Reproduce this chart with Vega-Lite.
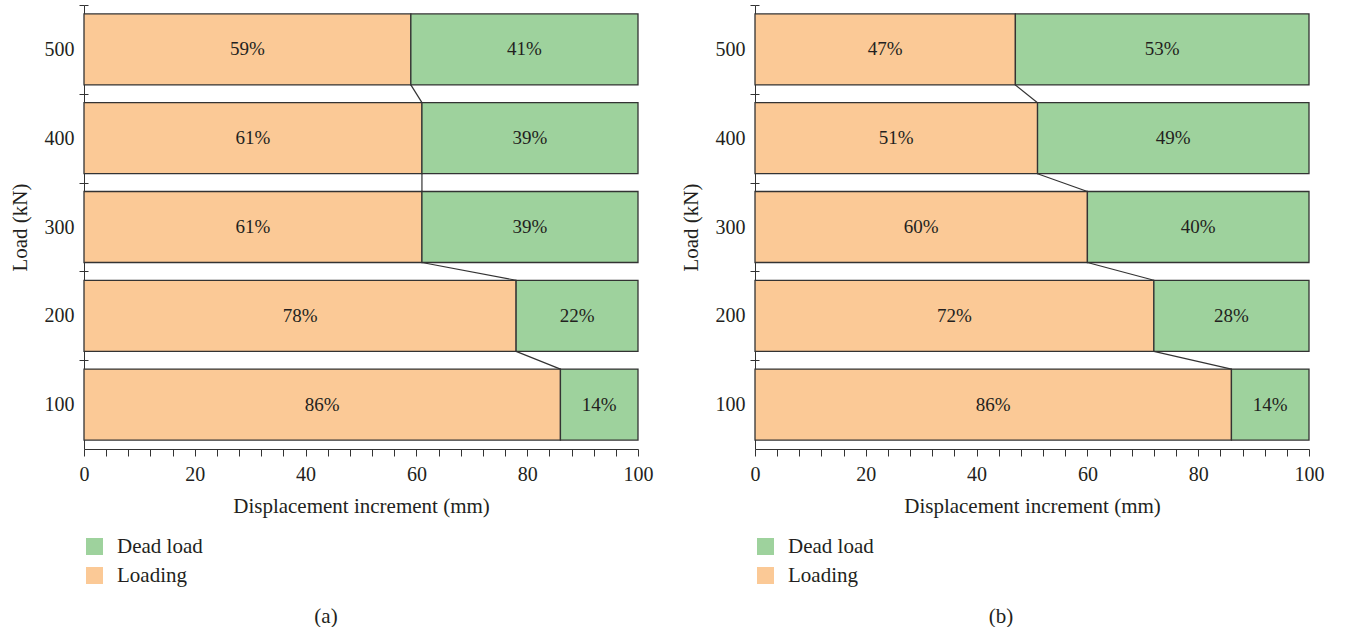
{
  "$schema": "https://vega.github.io/schema/vega-lite/v6.json",
  "padding": {"left": 9, "top": 4, "right": 10, "bottom": 0},
  "background": "white",
  "config": {
    "font": "Liberation Serif",
    "view": {"stroke": null},
    "axis": {"labelFont": "Liberation Serif", "titleFont": "Liberation Serif", "labelColor": "#231F20", "titleColor": "#231F20", "domainColor": "#333333", "tickColor": "#333333", "titleFontWeight": "normal", "labelFontSize": 20, "titleFontSize": 21, "grid": false},
    "legend": {"labelFont": "Liberation Serif", "labelFontSize": 21, "labelColor": "#231F20"},
    "title": {"font": "Liberation Serif", "fontSize": 21, "fontWeight": "normal", "color": "#231F20"}
  },
  "spacing": 27,
  "datasets": {
    "a_bars": [
      {"load": 500, "type": "Loading", "value": 59, "label": "59%"},
      {"load": 500, "type": "Dead load", "value": 41, "label": "41%"},
      {"load": 400, "type": "Loading", "value": 61, "label": "61%"},
      {"load": 400, "type": "Dead load", "value": 39, "label": "39%"},
      {"load": 300, "type": "Loading", "value": 61, "label": "61%"},
      {"load": 300, "type": "Dead load", "value": 39, "label": "39%"},
      {"load": 200, "type": "Loading", "value": 78, "label": "78%"},
      {"load": 200, "type": "Dead load", "value": 22, "label": "22%"},
      {"load": 100, "type": "Loading", "value": 86, "label": "86%"},
      {"load": 100, "type": "Dead load", "value": 14, "label": "14%"}
    ],
    "b_bars": [
      {"load": 500, "type": "Loading", "value": 47, "label": "47%"},
      {"load": 500, "type": "Dead load", "value": 53, "label": "53%"},
      {"load": 400, "type": "Loading", "value": 51, "label": "51%"},
      {"load": 400, "type": "Dead load", "value": 49, "label": "49%"},
      {"load": 300, "type": "Loading", "value": 60, "label": "60%"},
      {"load": 300, "type": "Dead load", "value": 40, "label": "40%"},
      {"load": 200, "type": "Loading", "value": 72, "label": "72%"},
      {"load": 200, "type": "Dead load", "value": 28, "label": "28%"},
      {"load": 100, "type": "Loading", "value": 86, "label": "86%"},
      {"load": 100, "type": "Dead load", "value": 14, "label": "14%"}
    ],
    "a_links": [
      {"from_load": 500, "from_x": 59, "to_load": 400, "to_x": 61},
      {"from_load": 400, "from_x": 61, "to_load": 300, "to_x": 61},
      {"from_load": 300, "from_x": 61, "to_load": 200, "to_x": 78},
      {"from_load": 200, "from_x": 78, "to_load": 100, "to_x": 86}
    ],
    "b_links": [
      {"from_load": 500, "from_x": 47, "to_load": 400, "to_x": 51},
      {"from_load": 400, "from_x": 51, "to_load": 300, "to_x": 60},
      {"from_load": 300, "from_x": 60, "to_load": 200, "to_x": 72},
      {"from_load": 200, "from_x": 72, "to_load": 100, "to_x": 86}
    ]
  },
  "hconcat": [
    {
      "width": 554, "height": 444,
      "title": {"text": "(a)", "orient": "bottom", "anchor": "middle", "frame": "bounds", "offset": 20, "dx": -5},
      "resolve": {"axis": {"y": "independent", "x": "independent"}},
      "layer": [
        {
          "data": {"name": "a_bars"},
          "mark": {"type": "bar", "stroke": "#333333", "strokeWidth": 1.3},
          "encoding": {
            "y": {"field": "load", "type": "ordinal", "sort": [500, 400, 300, 200, 100], "scale": {"domain": [500, 400, 300, 200, 100], "paddingInner": 0.2, "paddingOuter": 0.1},
              "axis": {"title": "Load (kN)", "tickOffset": -44.4, "labelOffset": 44.4, "tickSize": 5, "labelPadding": 5, "titlePadding": 14, "labelAngle": 0}},
            "x": {"field": "value", "type": "quantitative", "stack": "zero", "scale": {"domain": [0, 100], "nice": false},
              "axis": {"orient": "bottom", "title": "Displacement increment (mm)", "values": [0, 20, 40, 60, 80, 100], "labelOverlap": false, "tickSize": 7, "labelPadding": 8, "titlePadding": 11, "labelFlush": false}},
            "color": {"field": "type", "type": "nominal", "scale": {"domain": ["Dead load", "Loading"], "range": ["#9ED29D", "#FBC996"]},
              "legend": {"title": null, "orient": "none", "legendX": 0, "legendY": 531, "symbolType": "square", "symbolSize": 289, "symbolStrokeWidth": 0, "symbolOpacity": 1, "labelOffset": 12, "rowPadding": 7, "padding": 0}},
            "order": {"field": "type", "sort": "descending"}
          }
        },
        {
          "data": {"name": "a_bars"},
          "mark": {"type": "text", "fontSize": 19, "color": "#231F20", "baseline": "middle", "align": "center"},
          "encoding": {
            "y": {"field": "load", "type": "ordinal", "sort": [500, 400, 300, 200, 100], "axis": null},
            "x": {"field": "value", "type": "quantitative", "stack": "zero", "bandPosition": 0.5,
              "axis": {"orient": "bottom", "title": null, "labels": false, "domain": false, "values": [4,8,12,16,24,28,32,36,44,48,52,56,64,68,72,76,84,88,92,96], "tickSize": 7}},
            "order": {"field": "type", "sort": "descending"},
            "text": {"field": "label"}
          }
        },
        {
          "data": {"name": "a_links"},
          "mark": {"type": "rule", "color": "#333333", "strokeWidth": 1.2},
          "encoding": {
            "y": {"field": "from_load", "type": "ordinal", "sort": [500, 400, 300, 200, 100], "bandPosition": 1,
              "axis": {"orient": "left", "title": null, "labels": false, "domain": false, "tickOffset": -44.4, "tickSize": -4}},
            "y2": {"field": "to_load", "bandPosition": 0},
            "x": {"field": "from_x", "type": "quantitative", "axis": null},
            "x2": {"field": "to_x"}
          }
        }
      ]
    },
    {
      "width": 554, "height": 444,
      "title": {"text": "(b)", "orient": "bottom", "anchor": "middle", "frame": "bounds", "offset": 20, "dx": -1},
      "resolve": {"axis": {"y": "independent", "x": "independent"}},
      "layer": [
        {
          "data": {"name": "b_bars"},
          "mark": {"type": "bar", "stroke": "#333333", "strokeWidth": 1.3},
          "encoding": {
            "y": {"field": "load", "type": "ordinal", "sort": [500, 400, 300, 200, 100], "scale": {"domain": [500, 400, 300, 200, 100], "paddingInner": 0.2, "paddingOuter": 0.1},
              "axis": {"title": "Load (kN)", "tickOffset": -44.4, "labelOffset": 44.4, "tickSize": 5, "labelPadding": 5, "titlePadding": 14, "labelAngle": 0}},
            "x": {"field": "value", "type": "quantitative", "stack": "zero", "scale": {"domain": [0, 100], "nice": false},
              "axis": {"orient": "bottom", "title": "Displacement increment (mm)", "values": [0, 20, 40, 60, 80, 100], "labelOverlap": false, "tickSize": 7, "labelPadding": 8, "titlePadding": 11, "labelFlush": false}},
            "color": {"field": "type", "type": "nominal", "scale": {"domain": ["Dead load", "Loading"], "range": ["#9ED29D", "#FBC996"]},
              "legend": {"title": null, "orient": "none", "legendX": 0, "legendY": 531, "symbolType": "square", "symbolSize": 289, "symbolStrokeWidth": 0, "symbolOpacity": 1, "labelOffset": 12, "rowPadding": 7, "padding": 0}},
            "order": {"field": "type", "sort": "descending"}
          }
        },
        {
          "data": {"name": "b_bars"},
          "mark": {"type": "text", "fontSize": 19, "color": "#231F20", "baseline": "middle", "align": "center"},
          "encoding": {
            "y": {"field": "load", "type": "ordinal", "sort": [500, 400, 300, 200, 100], "axis": null},
            "x": {"field": "value", "type": "quantitative", "stack": "zero", "bandPosition": 0.5,
              "axis": {"orient": "bottom", "title": null, "labels": false, "domain": false, "values": [4,8,12,16,24,28,32,36,44,48,52,56,64,68,72,76,84,88,92,96], "tickSize": 7}},
            "order": {"field": "type", "sort": "descending"},
            "text": {"field": "label"}
          }
        },
        {
          "data": {"name": "b_links"},
          "mark": {"type": "rule", "color": "#333333", "strokeWidth": 1.2},
          "encoding": {
            "y": {"field": "from_load", "type": "ordinal", "sort": [500, 400, 300, 200, 100], "bandPosition": 1,
              "axis": {"orient": "left", "title": null, "labels": false, "domain": false, "tickOffset": -44.4, "tickSize": -4}},
            "y2": {"field": "to_load", "bandPosition": 0},
            "x": {"field": "from_x", "type": "quantitative", "axis": null},
            "x2": {"field": "to_x"}
          }
        }
      ]
    }
  ],
  "resolve": {"scale": {"color": "independent"}, "legend": {"color": "independent"}}
}
